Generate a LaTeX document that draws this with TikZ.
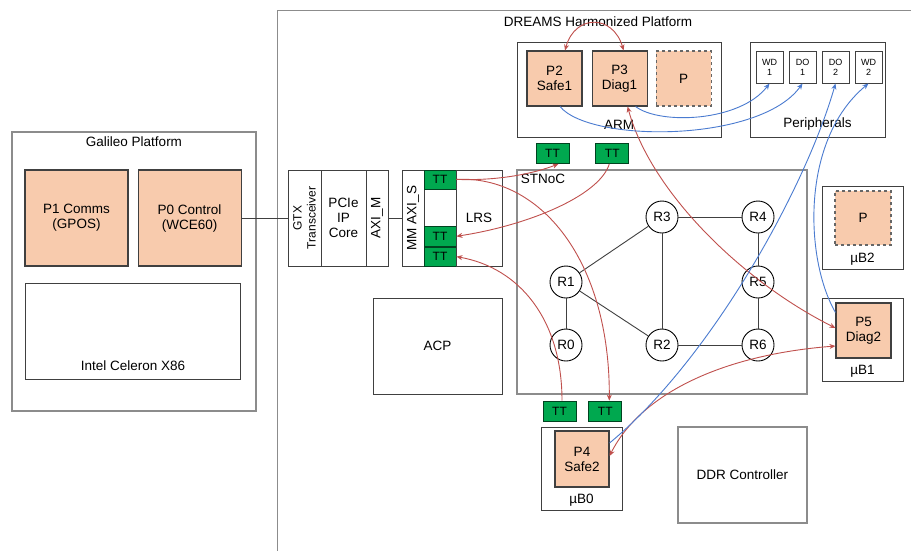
\documentclass[tikz,border=0pt]{standalone}
\usepackage{fontspec}
\setmainfont{Liberation Sans}
\usetikzlibrary{arrows.meta, positioning, calc}
\definecolor{FrameGray}{HTML}{8C8C8C}
\definecolor{DarkGray}{HTML}{404040}
\definecolor{ProcFill}{HTML}{F8CBAD}
\definecolor{TTGreen}{HTML}{00A84F}
\definecolor{LinkRed}{HTML}{C0504D}
\definecolor{LinkBlue}{HTML}{4A7BD0}

\begin{document}
\begin{tikzpicture}[
    x=1pt, y=-1pt,
    font=\fontsize{13.5}{15}\selectfont,
    >={Stealth[length=6pt, width=5pt]},
    frame/.style={draw=FrameGray, line width=1.4pt, fill=white, inner sep=0pt, align=center},
    block/.style={draw=DarkGray, line width=1pt, fill=white, inner sep=0pt, align=center},
    proc/.style={draw=DarkGray, line width=1.1pt, fill=ProcFill, inner sep=0pt, align=center,
        minimum width=55pt, minimum height=55pt},
    spare/.style={proc, dashed, draw=DarkGray!80},
    tt/.style={draw=TTGreen!40!black, line width=0.8pt, fill=TTGreen, inner sep=0pt,
        minimum width=33pt, minimum height=20pt, font=\fontsize{12}{12}\selectfont},
    io/.style={block, minimum width=27pt, minimum height=32pt, font=\fontsize{9}{10}\selectfont},
    router/.style={circle, draw=black, line width=0.9pt, fill=white, minimum size=32pt, inner sep=0pt},
    mesh/.style={draw=DarkGray, line width=0.9pt},
    redlink/.style={draw=LinkRed, line width=0.9pt},
    bluelink/.style={draw=LinkBlue, line width=0.9pt},
]
\useasboundingbox (0,0) rectangle (911,550);
\clip (0,0) rectangle (911,550);

% galileo
\node[frame, minimum width=244pt, minimum height=279pt] (galileo) at (134,271.5) {};
\node[below=2pt of galileo.north] (galileolbl) {Galileo Platform};
\node[proc, minimum width=103pt, minimum height=96pt] (p1) at (76.5,218) {P1 Comms\\(GPOS)};
\node[proc, minimum width=103pt, minimum height=96pt, right=9pt of p1] (p0) {P0 Control\\(WCE60)};
\node[block, minimum width=215pt, minimum height=96pt, anchor=north west] (celeron) at (25,283) {};
\node[above=6pt of celeron.south] (celeronlbl) {Intel Celeron X86};

% dreams
\node[frame, anchor=north west, minimum width=650pt, minimum height=560pt] (dreams) at (277,10) {};
\node (dreamslbl) at (598,22) {DREAMS Harmonized Platform};

% pcie bridge
\node[block, rotate=90, minimum width=96pt, minimum height=33pt,
      font=\fontsize{12}{14}\selectfont] (gtx) at (304.5,218) {GTX\\Transceiver};
\node[block, minimum width=45pt, minimum height=96pt] (pcie) at (343.5,218) {PCIe\\IP\\Core};
\node[block, rotate=90, minimum width=96pt, minimum height=22pt] (axim) at (377,218) {AXI\_M};
\draw[mesh] (p0) -- (gtx);

% lrs
\node[block, rotate=90, minimum width=96pt, minimum height=22pt] (axis) at (413,218) {MM AXI\_S};
\node[block, minimum width=32pt, minimum height=96pt] (ttcol) at (440,218) {};
\node[tt, minimum width=32pt, minimum height=19pt, anchor=north] (ttl1) at (ttcol.north) {TT};
\node[tt, minimum width=32pt, minimum height=19pt, anchor=south] (ttl3) at (ttcol.south) {TT};
\node[tt, minimum width=32pt, above=0pt of ttl3] (ttl2) {TT};
\node[block, minimum width=46pt, minimum height=96pt] (lrs) at (479,218) {LRS};
\draw[mesh] (axim) -- (axis);

% acp
\node[block, minimum width=129pt, minimum height=96pt] (acp) at (437.5,346) {ACP};

% stnoc
\node[frame, minimum width=290pt, minimum height=224pt] (stnoc) at (662,282) {};
\node[anchor=north west] (stnoclbl) at ([xshift=1pt, yshift=-1pt]stnoc.north west) {STNoC};
\foreach \n/\x/\y in {0/566/345, 1/566/282, 2/662/345, 3/662/217, 4/758/217, 5/758/282, 6/758/345}
    \node[router] (r\n) at (\x,\y) {R\n};
\foreach \a/\b in {1/0, 1/3, 1/2, 3/4, 3/2, 4/5, 5/6, 2/6}
    \draw[mesh] (r\a) -- (r\b);

% arm
\node[block, minimum width=204pt, minimum height=95pt] (arm) at (619,89.5) {};
\node[above=4pt of arm.south] (armlbl) {ARM};
\node[proc] (p2) at (554.5,78.5) {P2\\Safe1};
\node[proc, right=9pt of p2] (p3) {P3\\Diag1};
\node[spare, right=8pt of p3] (parm) {P};

% peripherals
\node[block, minimum width=135pt, minimum height=95pt] (periph) at (817.5,89.5) {};
\node[above=4pt of periph.south] (periphlbl) {Peripherals};
\node[io] (wd1) at (769.5,67) {WD\\1};
\node[io, right=5pt of wd1] (do1) {DO\\1};
\node[io, right=5pt of do1] (do2) {DO\\2};
\node[io, right=5pt of do2] (wd2) {WD\\2};

% time triggered ports
\node[tt] (tta) at (552.5,153.5) {TT};
\node[tt, right=26pt of tta] (ttb) {TT};
\node[tt] (ttc) at (559.5,411) {TT};
\node[tt, right=12pt of ttc] (ttd) {TT};

% microblazes
\node[block, minimum width=81pt, minimum height=83pt] (ub2) at (862.5,227.5) {};
\node[spare, minimum width=56pt, minimum height=54pt] (pub2) at (863,218) {P};
\node[above=1pt of ub2.south] (ub2lbl) {µB2};
\node[block, minimum width=81pt, minimum height=83pt] (ub1) at (862.5,339.5) {};
\node[proc] (p5) at (863.5,330.5) {P5\\Diag2};
\node[above=1pt of ub1.south] (ub1lbl) {µB1};
\node[block, minimum width=81pt, minimum height=83pt] (ub0) at (581.5,468.5) {};
\node[proc, minimum width=54pt, minimum height=56pt] (p4) at (582,459) {P4\\Safe2};
\node[above=1pt of ub0.south] (ub0lbl) {µB0};

% ddr
\node[frame, minimum width=129pt, minimum height=96pt] (ddr) at (742.5,475) {DDR Controller};

% red links
\draw[redlink, <->] ([xshift=10.5pt]p2.north) .. controls (575,14) and (613,14) .. ([xshift=4pt]p3.north);
\draw[redlink, ->] (ttl1.east) .. controls (500,181) and (535,173) .. ([xshift=6pt]tta.south);
\draw[redlink, ->] (ttl1.east) .. controls (540,175) and (610,260) .. ([xshift=4pt]ttd.north);
\draw[redlink, ->] ([xshift=-3pt]ttb.south) .. controls (600,195) and (530,225) .. (ttl2.east);
\draw[redlink, ->] ([xshift=2.5pt]ttc.north) .. controls (562,320) and (520,268) .. (ttl3.east);
\draw[redlink, <->] ([xshift=8pt]p3.south) .. controls (650,190) and (740,280) .. ([yshift=2.5pt]p5.west);
\draw[redlink, <->] ([yshift=3pt]p4.east) .. controls (640,395) and (720,355) .. ([yshift=-15.5pt]p5.west);

% blue links
\draw[bluelink, ->] ([xshift=5.5pt]p2.south) .. controls (590,143) and (760,143) .. (do1.south);
\draw[bluelink, ->] ([xshift=16pt]p3.south) .. controls (660,125) and (740,122) .. (wd1.south);
\draw[bluelink, ->] ([yshift=16pt]p4.east) .. controls (710,360) and (805,190) .. (do2.south);
\draw[bluelink, ->] ([yshift=-10pt]p5.north west) .. controls (805,260) and (800,140) .. (wd2.south);

\end{tikzpicture}
\end{document}
